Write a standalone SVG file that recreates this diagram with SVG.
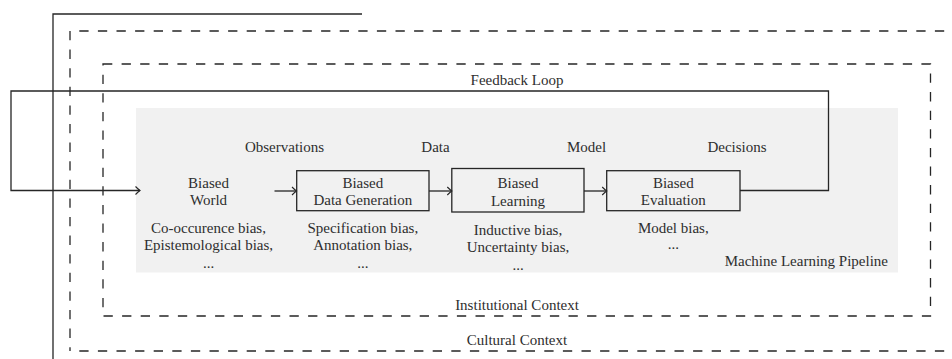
<svg xmlns="http://www.w3.org/2000/svg" width="952" height="359" viewBox="0 0 952 359">
  <style>
    .frame { fill: none; stroke: #262626; stroke-width: 1.3; }
    .dash { fill: none; stroke: #262626; stroke-width: 1.3; stroke-dasharray: 9.3 9.3; }
    .box { fill: none; stroke: #262626; stroke-width: 1.3; }
    .conn { fill: none; stroke: #262626; stroke-width: 1.3; marker-end: url(#arrow); }
  </style>
  <defs>
    <marker id="arrow" viewBox="-6 -5 7 10" refX="0" refY="0" markerWidth="7" markerHeight="10" markerUnits="userSpaceOnUse" orient="auto">
      <path d="M -4.5 -4 Q -1.5 -1 0 0 Q -1.5 1 -4.5 4" fill="none" stroke="#262626" stroke-width="1.1"/>
    </marker>
  </defs>

  <rect width="952" height="359" fill="#fff"/>

  <g font-family="'Liberation Serif', 'Times New Roman', 'DejaVu Serif', serif" font-size="15" fill="#2e2e2e" text-anchor="middle">

  <!-- outer solid frame edge -->
  <path class="frame" d="M362 14 H53 V362"/>

  <!-- cultural context -->
  <g id="cultural-context">
    <path class="dash" d="M70 31 V351"/>
    <path class="dash" d="M70 31 H960" stroke-dashoffset="9.3"/>
    <path class="dash" d="M70 351 H960" stroke-dashoffset="9.3"/>
    <text x="517" y="345">Cultural Context</text>
  </g>

  <!-- institutional context -->
  <g id="institutional-context">
    <rect class="dash" x="103" y="64" width="827.5" height="252"/>
    <text x="517" y="310">Institutional Context</text>
  </g>

  <!-- pipeline background -->
  <g id="ml-pipeline">
    <rect x="136" y="108" width="762" height="164.5" fill="#f1f1f1"/>
    <text x="888" y="266" text-anchor="end">Machine Learning Pipeline</text>
  </g>

  <!-- connectors -->
  <g id="connectors">
    <path class="conn" d="M740 190.5 H828.5 V91 H11 V190.5 H140"/>
    <path class="conn" d="M274.5 191 H296.5"/>
    <path class="conn" d="M429 191 H451.8"/>
    <path class="conn" d="M584 191 H606.7"/>
  </g>

  <!-- connector labels -->
  <g id="labels">
    <text x="517" y="85">Feedback Loop</text>
    <text x="284.5" y="152">Observations</text>
    <text x="435.5" y="152">Data</text>
    <text x="586.5" y="152">Model</text>
    <text x="737" y="152">Decisions</text>
  </g>

  <!-- nodes -->
  <g id="biased-world">
    <text x="208.5" y="188">Biased</text>
    <text x="208.5" y="205">World</text>
    <text x="208.5" y="233">Co-occurence bias,</text>
    <text x="208.5" y="250">Epistemological bias,</text>
    <text x="208.5" y="268">...</text>
  </g>

  <g id="biased-data-generation">
    <rect class="box" x="296.7" y="170.7" width="132.3" height="40"/>
    <text x="362.8" y="188">Biased</text>
    <text x="362.8" y="205">Data Generation</text>
    <text x="362.8" y="233">Specification bias,</text>
    <text x="362.8" y="250">Annotation bias,</text>
    <text x="362.8" y="268">...</text>
  </g>

  <g id="biased-learning">
    <rect class="box" x="451.8" y="168.5" width="132.2" height="43.5"/>
    <text x="518" y="188">Biased</text>
    <text x="518" y="205.5">Learning</text>
    <text x="518" y="234.5">Inductive bias,</text>
    <text x="518" y="251.5">Uncertainty bias,</text>
    <text x="518" y="269.5">...</text>
  </g>

  <g id="biased-evaluation">
    <rect class="box" x="606.7" y="170.7" width="133.3" height="40"/>
    <text x="673.3" y="188">Biased</text>
    <text x="673.3" y="205">Evaluation</text>
    <text x="673.3" y="233">Model bias,</text>
    <text x="673.3" y="249">...</text>
  </g>

  </g>
</svg>
